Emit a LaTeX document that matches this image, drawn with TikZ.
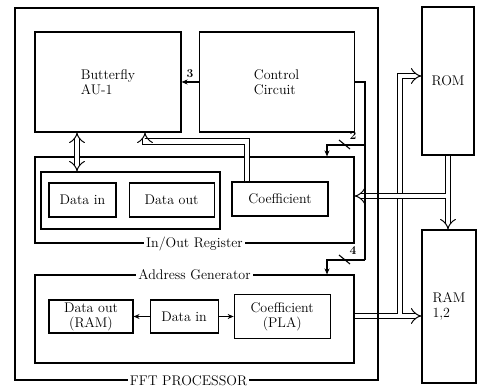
\documentclass[tikz,border=0pt]{standalone}
\usetikzlibrary{positioning,arrows.meta}

\begin{document}
\begin{tikzpicture}[x=1pt, y=-1pt, line width=1.1pt, node distance=12pt,
    font=\fontsize{14}{15}\selectfont,
    block/.style={draw, inner sep=0pt, align=center},
    grp/.style={draw, inner sep=0pt},
    bus/.style={double, double distance=4.6pt, line width=1pt, -{Implies}},
    sig/.style={-{Stealth[length=6pt,width=5pt]}},
    tag/.style={fill=white, inner sep=2pt},
    num/.style={font=\fontsize{12}{12}\selectfont\bfseries}]
  \useasboundingbox (0,0) rectangle (477,390);

  % groups inside the processor
  \node[grp, minimum width=319pt, minimum height=86pt] (inout) at (194.5,200) {};
  \node[grp, minimum width=319pt, minimum height=88pt] (addrgen) at (194.5,319) {};

  \node[block, align=left, minimum width=146pt, minimum height=100pt] (butterfly)
    at (108,82) {Butterfly\\AU-1};
  \node[block, align=left, minimum width=155pt, minimum height=100pt,
        right=17pt of butterfly] (control) {Control\\Circuit};

  % in/out register
  \node[grp, minimum width=179pt, minimum height=57pt] (dbuf) at (130.5,200.5) {};
  \node[block, minimum width=67pt, minimum height=34pt] (datain) at (82.5,200) {Data in};
  \node[block, minimum width=85pt, minimum height=34pt, right=12pt of datain] (dataout)
    {Data out};
  \node[block, minimum width=96pt, minimum height=34pt] (coef) at (280,199) {Coefficient};

  % address generator
  \node[block, minimum width=84pt, minimum height=33pt] (agout) at (91,316.5)
    {Data out\\(RAM)};
  \node[block, minimum width=68pt, minimum height=33pt, right=16pt of agout] (agin)
    {Data in};
  \node[block, minimum width=96pt, minimum height=44pt, right=15pt of agin] (pla)
    {Coefficient\\(PLA)};

  % memories
  \node[block, minimum width=52pt, minimum height=148pt] (rom) at (448,81) {ROM};
  \node[block, align=left, minimum width=54pt, minimum height=153pt] (ram) at (449,306.5)
    {RAM\\1,2};

  \coordinate (bu) at ([xshift=-31pt]butterfly.south);
  \coordinate (cu) at ([xshift=-33pt]coef.north);
  \coordinate (ab) at ([yshift=3pt]addrgen.east);
  \coordinate (abr) at (400,316);
  \coordinate (db) at ([yshift=4pt]inout.east);
  \path (rom.south |- db) coordinate (dr);
  \coordinate (k2) at (365,145);
  \coordinate (k4) at (365,260);

  % buses
  \draw[bus, Implies-Implies] (bu) -- (bu |- dbuf.north);
  \draw[bus] (cu) -- ++(0,-40) -| ([xshift=37pt]butterfly.south);
  \draw[bus] (ab) -- (ab -| ram.west);
  \draw[bus] ([yshift=2.3pt]abr) |- ([yshift=5pt]rom.west);
  \draw[bus] (rom.south) -- (rom.south |- ram.north);
  \draw[bus] ([xshift=-2.3pt]dr) -- (db);

  % control lines
  \draw[sig] (control.west) -- (butterfly.east |- control.west)
    node[midway, above, num] {3};
  \draw (control.east) -| (k4);
  \draw[sig] (k2) -- ++(-20,0) coordinate (s2) -| ([xshift=132.5pt]inout.north);
  \draw ([shift={(-6,-5)}]s2) -- ([shift={(5,4)}]s2);
  \node[num] at ([shift={(8,-9)}]s2) {2};
  \draw[sig] (k4) -- ++(-20,0) coordinate (s4) -| ([xshift=132.5pt]addrgen.north);
  \draw ([shift={(-6,-5)}]s4) -- ([shift={(5,4)}]s4);
  \node[num] at ([shift={(8,-9)}]s4) {4};

  \draw[sig] (agin.west) -- (agin.west -| agout.east);
  \draw[sig] (agin.east) -- (agin.east -| pla.west);

  % processor frame
  \node[grp, minimum width=363pt, minimum height=372pt] (fft) at (196.5,194) {};
  \node[tag] at (inout.south) {In/Out Register};
  \node[tag] at (addrgen.north) {Address Generator};
  \node[tag] at ([xshift=-8pt]fft.south) {FFT PROCESSOR};
\end{tikzpicture}
\end{document}
